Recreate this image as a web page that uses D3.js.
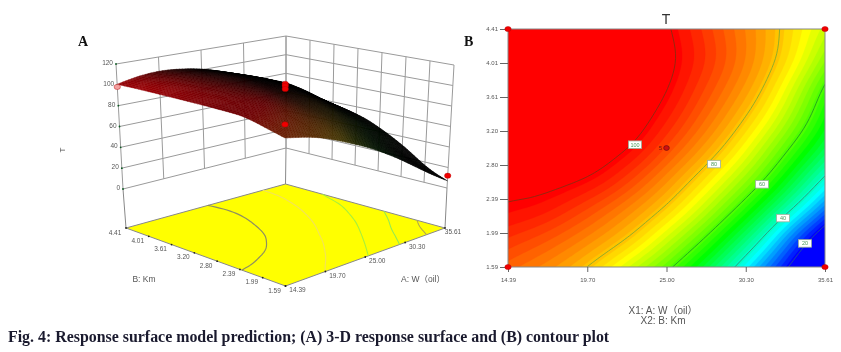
<!DOCTYPE html>
<html><head><meta charset="utf-8">
<script src="https://cdn.jsdelivr.net/npm/d3@7"></script>
<style>html,body{margin:0;padding:0;background:#fff}svg{display:block;filter:blur(0.35px)}</style>
</head><body><svg id="c" width="841" height="352"></svg>
<script>
const aTicks = ["14.39","19.70","25.00","30.30","35.61"];
const bTicks = ["4.41","4.01","3.61","3.20","2.80","2.39","1.99","1.59"];
const tTicks = [0,20,40,60,80,100,120];
const contourLevels = [20,40,60,80,100];
// T, rows from B=4.41 down to B=1.59, columns from A=14.39 to A=35.61
const tRow1 = [100.5,104,106,106,104,101,95.6,89.7,84,77,70];
const tRow2 = [101,104.5,106.5,106.5,105,102,97,91,84,76.5,66];
const tRow3 = [101,104,105.5,105.5,104,101,94.5,88,81,70.5,58.5];
const tRow4 = [101,103.5,105,105,103,98,91,84,76,66,55];
const tRow5 = [101,103,104,103,100.3,93,86,78.5,69,59,49.5];
const tRow6 = [100.5,102,102,99.5,93,86,79,71,62,51,39.5];
const tRow7 = [100.5,99.5,95.5,90.7,85.7,80,72,62.5,52,41,28.5];
const tRow8 = [95,92.5,89,85,79.5,71,62.5,52,41,26,14];
const tRow9 = [90,87,83,77,69.5,62,52.5,42,30,18,7];
const tRows = [tRow1,tRow2,tRow3,tRow4,tRow5,tRow6,tRow7,tRow8,tRow9];
// design points [A, B, T]
const pointA = [14.39,25,25,25,14.39,35.61];
const pointB = [4.41,3,3,3,1.59,1.59];
const pointT = [98,104,102,99,102,12];
const contourPointsA = [14.39,35.61,14.39,35.61];
const contourPointsB = [4.41,4.41,1.59,1.59];
const contourLabelA = [22.89,28.18,31.39,32.8,34.27];
const contourLabelB = [3.04,2.81,2.57,2.17,1.87];

const svg = d3.select("#c");
const aMin=14.39,aMax=35.61,bMin=1.59,bMax=4.41;
const grey="#555";
const sans="Liberation Sans, Arial, sans-serif", serif="Liberation Serif, Times New Roman, serif";

// ---------- sampled surface (rendering mesh)
const nC=tRows[0].length,nR=tRows.length,SUB=6;
const fw=(nC-1)*SUB+1,fh=(nR-1)*SUB+1;
const rowInterp=tRows.map(r=>d3.interpolateBasis(r));
const fine=new Float64Array(fw*fh);
for(let i=0;i<fw;i++){
  const col=d3.interpolateBasis(rowInterp.map(f=>f(i/(fw-1))));
  for(let j=0;j<fh;j++) fine[j*fw+i]=col(j/(fh-1));
}
const ramp=d3.scaleLinear().domain([20,36,54,74,100]).range(["#0000ff","#00ffff","#00ff00","#ffff00","#ff0000"]).clamp(true);

// grid coordinate -> A,B
const cToA=d3.scaleLinear([0.5,fw-0.5],[aMin,aMax]);
const cToB=d3.scaleLinear([0.5,fh-0.5],[bMax,bMin]);
function isolines(level){
  const cs=d3.contours().size([fw,fh]).thresholds([level])(fine)[0];
  const segs=[];
  cs.coordinates.forEach(poly=>poly.forEach(ring=>{
    let cur=[];
    ring.forEach(p=>{
      const out=p[0]<0.5||p[0]>fw-0.5||p[1]<0.5||p[1]>fh-0.5;
      if(out){ if(cur.length>1)segs.push(cur); cur=[]; }
      else cur.push([cToA(p[0]),cToB(p[1])]);
    });
    if(cur.length>1)segs.push(cur);
  }));
  return segs;
}

// ---------- panel B contour plot
const X=d3.scaleLinear([aMin,aMax],[508,825]);
const Y=d3.scaleLinear([bMin,bMax],[267,29]);
const defs=svg.append("defs");
defs.append("clipPath").attr("id","pc").append("rect").attr("x",508).attr("y",29).attr("width",317).attr("height",238);
const bGroup=svg.append("g");
const plot=bGroup.append("g").attr("clip-path","url(#pc)");
plot.append("rect").attr("x",508).attr("y",29).attr("width",317).attr("height",238).attr("fill",ramp(5));
const thr=d3.range(5,110,2);
const bands=d3.contours().size([fw,fh]).thresholds(thr)(fine);
const tr=d3.geoTransform({point(x,y){this.stream.point(X(cToA(x)),Y(cToB(y)));}});
const gp=d3.geoPath(tr);
plot.selectAll("path.b").data(bands).join("path").attr("class","b")
  .attr("d",gp).attr("fill",d=>ramp(d.value+1)).attr("stroke",d=>ramp(d.value+1)).attr("stroke-width",0.3);
const lineColors={100:"#8a2a10",80:"#86aa2c",60:"#1f9f1f",40:"#2a9a70",20:"#1c50a0"};
const lineXY=d3.line().x(d=>X(d[0])).y(d=>Y(d[1]));
contourLevels.forEach(l=>{
  isolines(l).forEach(s=>plot.append("path").attr("d",lineXY(s)).attr("fill","none").attr("stroke",lineColors[l]).attr("stroke-width",0.9));
});
bGroup.append("rect").attr("x",508).attr("y",29).attr("width",317).attr("height",238).attr("fill","none").attr("stroke","#888").attr("stroke-width",1);

// labels on contours
contourLevels.slice().reverse().forEach((l,i)=>{
  const x=X(contourLabelA[i]),y=Y(contourLabelB[i]);
  bGroup.append("rect").attr("x",x-6.5).attr("y",y-3.7).attr("width",13).attr("height",7.5).attr("fill","#fff").attr("stroke","#9ab09a").attr("stroke-width",0.8);
  bGroup.append("text").attr("x",x).attr("y",y+2).attr("text-anchor","middle").attr("font-family",sans).attr("font-size",5.5).attr("fill","#4a9a5a").text(l);
});

// axes
const axB=d3.axisLeft(d3.scalePoint(bTicks,[29,267])).tickSize(8).tickPadding(2);
const gy=bGroup.append("g").attr("transform","translate(508,0)").call(axB);
const axA=d3.axisBottom(d3.scalePoint(aTicks,[508,825])).tickSize(5).tickPadding(6);
const gx=bGroup.append("g").attr("transform","translate(0,267)").call(axA);
[gx,gy].forEach(g=>{
  g.select(".domain").remove();
  g.selectAll("line").attr("stroke","#555").attr("stroke-width",0.9);
  g.selectAll("text").attr("font-family",sans).attr("font-size",6).attr("fill",grey);
});
// design points
const redDot=(g,x,y,fill)=>g.append("ellipse").attr("cx",x).attr("cy",y).attr("rx",3.2).attr("ry",2.6).attr("fill",fill||"#f00000").attr("stroke","#b00000").attr("stroke-width",0.4);
contourPointsA.forEach((a,i)=>redDot(bGroup,X(a),Y(contourPointsB[i])));
bGroup.append("ellipse").attr("cx",X(25)).attr("cy",Y(3)).attr("rx",2.8).attr("ry",2.4).attr("fill","#d01010").attr("stroke","#701010").attr("stroke-width",0.7);
bGroup.append("text").attr("x",X(25)-6).attr("y",Y(3)+2).attr("text-anchor","middle").attr("font-family",sans).attr("font-size",5.5).attr("fill","#601010").text("5");

bGroup.append("text").attr("x",666).attr("y",24).attr("text-anchor","middle").attr("font-family",sans).attr("font-size",14).attr("fill","#333").text("T");
bGroup.append("text").attr("x",663).attr("y",314).attr("text-anchor","middle").attr("font-family",sans+", Noto Sans CJK SC").attr("font-size",10).attr("fill",grey).text("X1: A: W（oil）");
bGroup.append("text").attr("x",663).attr("y",324).attr("text-anchor","middle").attr("font-family",sans).attr("font-size",10).attr("fill",grey).text("X2: B: Km");

// ---------- panel A 3-D
const U=d3.scaleLinear([aMin,aMax],[0,1]);
const V=d3.scaleLinear([bMin,bMax],[0,1]);
const W=d3.scaleLinear([0,120],[0,1]);
// cage corners: front, right, left, back
const base0={F:[285,240],R:[447,188],L:[123,189],B:[286,148]};
const base1={F:[285,104],R:[454,65],L:[116,64],B:[286,36]};
const floorC={F:[285.5,286],R:[445,228],L:[126,228],B:[285.5,184]};
const bil=(c,u,v)=>{
  const lo=[c.F[0]+(c.R[0]-c.F[0])*u,c.F[1]+(c.R[1]-c.F[1])*u];
  const hi=[c.L[0]+(c.B[0]-c.L[0])*u,c.L[1]+(c.B[1]-c.L[1])*u];
  return [lo[0]+(hi[0]-lo[0])*v,lo[1]+(hi[1]-lo[1])*v];
};
const proj=(a,b,t)=>{
  const u=U(a),v=V(b),w=W(t);
  const p0=bil(base0,u,v),p1=bil(base1,u,v);
  return [p0[0]+(p1[0]-p0[0])*w,p0[1]+(p1[1]-p0[1])*w];
};
const floorP=(a,b)=>bil(floorC,U(a),V(b));
const A=svg.append("g");
const wall="#9a9a9a";
const seg=(g,p,q,c,w)=>g.append("line").attr("x1",p[0]).attr("y1",p[1]).attr("x2",q[0]).attr("y2",q[1]).attr("stroke",c||wall).attr("stroke-width",w||1);
// walls
const aVal=d3.scalePoint(aTicks,[aMin,aMax]), bVal=d3.scalePoint(bTicks,[bMax,bMin]);
tTicks.forEach(t=>{
  seg(A,proj(aMin,bMax,t),proj(aMax,bMax,t));
  seg(A,proj(aMax,bMax,t),proj(aMax,bMin,t));
});
aTicks.forEach(s=>seg(A,proj(aVal(s),bMax,0),proj(aVal(s),bMax,120)));
bTicks.forEach(s=>seg(A,proj(aMax,bVal(s),0),proj(aMax,bVal(s),120)));
seg(A,floorP(aMin,bMax),proj(aMin,bMax,0),"#888");
seg(A,floorP(aMax,bMin),proj(aMax,bMin,0),"#888");
seg(A,floorP(aMax,bMax),proj(aMax,bMax,0),"#888");
// floor
const floorCorners=[[aMin,bMin],[aMax,bMin],[aMax,bMax],[aMin,bMax]].map(d=>floorP(d[0],d[1]));
A.append("path").attr("d",d3.line()(floorCorners)+"Z").attr("fill","#ffff00").attr("stroke","#888").attr("stroke-width",1);
const floorLine=d3.line().x(d=>floorP(d[0],d[1])[0]).y(d=>floorP(d[0],d[1])[1]);
const floorColors={100:"#8f8f60",80:"#f2e25a",60:"#a8f03a",40:"#96ea50",20:"#b3a94a"};
contourLevels.forEach(l=>isolines(l).forEach(s=>A.append("path").attr("d",floorLine(s)).attr("fill","none").attr("stroke",floorColors[l]).attr("stroke-width",l===100?1.2:1.1)));
// floor ticks
const dot=(g,p,c,r)=>g.append("circle").attr("cx",p[0]).attr("cy",p[1]).attr("r",r||0.9).attr("fill",c||"#222");
aTicks.forEach(s=>dot(A,floorP(aVal(s),bMin)));
bTicks.forEach(s=>dot(A,floorP(aMin,bVal(s))));
tTicks.forEach(t=>dot(A,proj(aMin,bMax,t),"#0a5a20"));
const lab=(x,y,s,fs,anchor)=>A.append("text").attr("x",x).attr("y",y).attr("text-anchor",anchor||"middle").attr("font-family",sans+", Noto Sans CJK SC").attr("font-size",fs||6.5).attr("fill",grey).text(s);
tTicks.forEach(t=>{const p=proj(aMin,bMax,t);lab(p[0]-3,p[1]+1,t,6.5,"end");});
bTicks.forEach(s=>{const p=floorP(aMin,bVal(s));lab(p[0]-11,p[1]+6.5,s);});
aTicks.forEach((s,i)=>{const p=floorP(aVal(s),bMin);lab(p[0]+(i===4?8:12),p[1]+6,s);});
lab(144,282,"B: Km",8.5);
lab(423,282,"A: W（oil）",8.5);
A.append("text").attr("transform","translate(65,150) rotate(-90)").attr("text-anchor","middle").attr("font-family",sans).attr("font-size",8).attr("fill",grey).text("T");

// surface quads
const S=A.append("g");
const pts=new Array(fw*fh);
for(let j=0;j<fh;j++)for(let i=0;i<fw;i++){
  const a=aMin+(aMax-aMin)*i/(fw-1), b=bMax+(bMin-bMax)*j/(fh-1);
  pts[j*fw+i]=proj(a,b,fine[j*fw+i]);
}
const area=(p,q,r,s)=>Math.abs((r[0]-p[0])*(s[1]-q[1])-(s[0]-q[0])*(r[1]-p[1]))/2;
const fl=new Float64Array((fw-1)*(fh-1));
for(let j=0;j<fh-1;j++)for(let i=0;i<fw-1;i++){
  const a=i/(fw-1)*(aMax-aMin)+aMin,b=bMax+(bMin-bMax)*j/(fh-1);
  const a2=(i+1)/(fw-1)*(aMax-aMin)+aMin,b2=bMax+(bMin-bMax)*(j+1)/(fh-1);
  const p=[pts[j*fw+i],pts[j*fw+i+1],pts[(j+1)*fw+i+1],pts[(j+1)*fw+i]];
  const fa=area(floorP(a,b),floorP(a2,b),floorP(a2,b2),floorP(a,b2));
  fl[j*(fw-1)+i]=area(p[0],p[1],p[2],p[3])/fa;
}
if(d3.blur2) d3.blur2({data:fl,width:fw-1,height:fh-1},4);
const quads=[];
for(let j=0;j<fh-1;j++)for(let i=0;i<fw-1;i++){
  const t=(fine[j*fw+i]+fine[j*fw+i+1]+fine[(j+1)*fw+i]+fine[(j+1)*fw+i+1])/4;
  const r=fl[j*(fw-1)+i];
  const tf=Math.max(0.05,Math.min(1,(t-25)/55));
  const k=Math.min(0.62,Math.pow(Math.max(r,0),2.5)*0.5)*tf;
  const c=d3.rgb(ramp(t));
  const col=d3.rgb(c.r*k+12*k,c.g*k*0.85,c.b*k*0.3+10*k).formatHex();
  quads.push({d:d3.line()([pts[j*fw+i],pts[j*fw+i+1],pts[(j+1)*fw+i+1],pts[(j+1)*fw+i]])+"Z",col,depth:j-i});
}
quads.sort((a,b)=>a.depth-b.depth);
S.selectAll("path").data(quads).join("path").attr("d",d=>d.d).attr("fill",d=>d.col).attr("stroke",d=>d.col).attr("stroke-width",0.4);

// design points
pointA.forEach((a,i)=>{
  const p=proj(a,pointB[i],pointT[i]);
  redDot(A,p[0],p[1],i===0?"#f4a0a0":"#f00000");
});

// letters, caption
svg.append("text").attr("x",78).attr("y",46).attr("font-family",serif).attr("font-weight","bold").attr("font-size",14).attr("fill","#111").text("A");
svg.append("text").attr("x",464).attr("y",45.5).attr("font-family",serif).attr("font-weight","bold").attr("font-size",14).attr("fill","#111").text("B");
svg.append("text").attr("x",8).attr("y",342).attr("font-family",serif).attr("font-weight","bold").attr("font-size",15.9).attr("fill","#1a1a2e").text("Fig. 4: Response surface model prediction; (A) 3-D response surface and (B) contour plot");
</script></body></html>
